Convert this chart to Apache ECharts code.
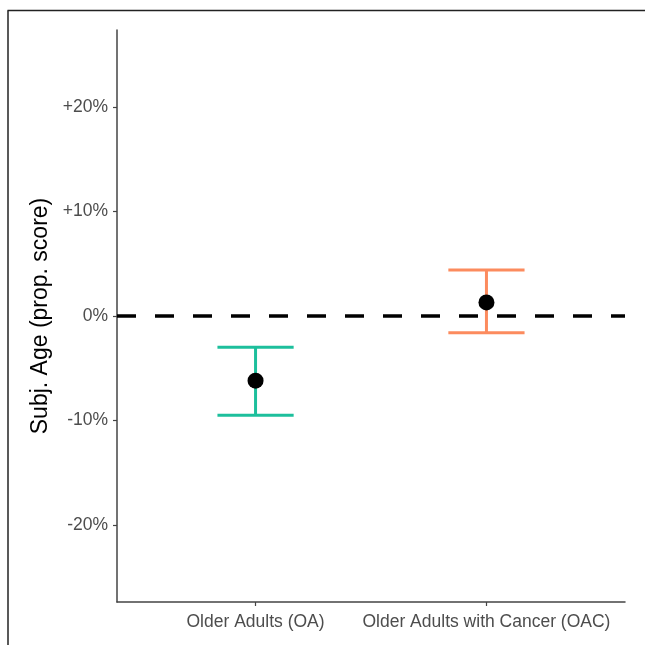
<!DOCTYPE html>
<html>
<head>
<meta charset="utf-8">
<script src="https://cdn.jsdelivr.net/npm/echarts@6/dist/echarts.min.js"></script>
<style>html,body{margin:0;padding:0;background:#fff;}#c{width:645px;height:645px;}</style>
</head>
<body>
<div id="c"></div>
<script>
var categories = ['Older Adults (OA)', 'Older Adults with Cancer (OAC)'];
var positions = [1, 2];
var means = [-0.062, 0.013];
var lower = [-0.095, -0.016];
var upper = [-0.030, 0.044];
var colors = ['#1dbf9c', '#fc8b5e'];
var yTicks = [-0.2, -0.1, 0, 0.1, 0.2];
var yTickLabels = ['-20%', '-10%', '0%', '+10%', '+20%'];

var chart = echarts.init(document.getElementById('c'), null, {renderer: 'canvas'});
var font = 'Liberation Sans, Arial, sans-serif';

var errData = positions.map(function (p, i) { return [p, lower[i], upper[i], i]; });
var ptData = positions.map(function (p, i) { return [p, means[i]]; });

chart.setOption({
  animation: false,
  backgroundColor: '#fff',
  graphic: [
    {type: 'line', shape: {x1: 7.5, y1: 10.5, x2: 645, y2: 10.5}, style: {stroke: '#222', lineWidth: 1.5}},
    {type: 'line', shape: {x1: 8, y1: 10.5, x2: 8, y2: 645}, style: {stroke: '#222', lineWidth: 1.5}}
  ],
  grid: {left: 117, right: 20, top: 30, bottom: 43, containLabel: false},
  xAxis: {
    type: 'value', min: 0.4, max: 2.6,
    splitLine: {show: false},
    axisLine: {show: true, onZero: false, lineStyle: {color: '#444', width: 1.5}},
    axisTick: {show: true, customValues: positions, length: 4, lineStyle: {color: '#444', width: 1.2}},
    axisLabel: {
      customValues: positions, margin: 11,
      color: '#4d4d4d', fontSize: 17.5, fontFamily: font,
      formatter: function (v) { var i = positions.indexOf(Math.round(v)); return i >= 0 ? categories[i] : ''; }
    }
  },
  yAxis: {
    type: 'value', min: -0.274, max: 0.274,
    name: 'Subj. Age (prop. score)', nameLocation: 'middle', nameGap: 57,
    nameTextStyle: {color: '#000', fontSize: 23, fontFamily: font},
    splitLine: {show: false},
    axisLine: {show: true, onZero: false, lineStyle: {color: '#444', width: 1.5}},
    axisTick: {show: true, customValues: yTicks, length: 4, lineStyle: {color: '#444', width: 1.2}},
    axisLabel: {
      customValues: yTicks, margin: 9, padding: [4, 0, 0, 0],
      color: '#4d4d4d', fontSize: 17.5, fontFamily: font,
      formatter: function (v) {
        for (var i = 0; i < yTicks.length; i++) { if (Math.abs(yTicks[i] - v) < 1e-6) return yTickLabels[i]; }
        return '';
      }
    }
  },
  series: [
    {
      type: 'line', data: [[0.4, 0], [2.6, 0]], symbol: 'none', silent: true, z: 1,
      lineStyle: {color: '#000', width: 3.5, type: [19, 19]}
    },
    {
      type: 'custom', z: 2,
      data: errData,
      renderItem: function (params, api) {
        var x = api.value(0), lo = api.value(1), hi = api.value(2), idx = api.value(3);
        var hw = 0.165;
        var pTop = api.coord([x, hi]), pBot = api.coord([x, lo]);
        var pTL = api.coord([x - hw, hi]), pTR = api.coord([x + hw, hi]);
        var pBL = api.coord([x - hw, lo]), pBR = api.coord([x + hw, lo]);
        var st = {stroke: colors[idx], lineWidth: 3, fill: null};
        return {type: 'group', children: [
          {type: 'line', shape: {x1: pTop[0], y1: pTop[1], x2: pBot[0], y2: pBot[1]}, style: st},
          {type: 'line', shape: {x1: pTL[0], y1: pTL[1], x2: pTR[0], y2: pTR[1]}, style: st},
          {type: 'line', shape: {x1: pBL[0], y1: pBL[1], x2: pBR[0], y2: pBR[1]}, style: st}
        ]};
      }
    },
    {
      type: 'scatter', z: 3, data: ptData, symbol: 'circle', symbolSize: 16,
      itemStyle: {color: '#000', opacity: 1}
    }
  ]
});
</script>
</body>
</html>
